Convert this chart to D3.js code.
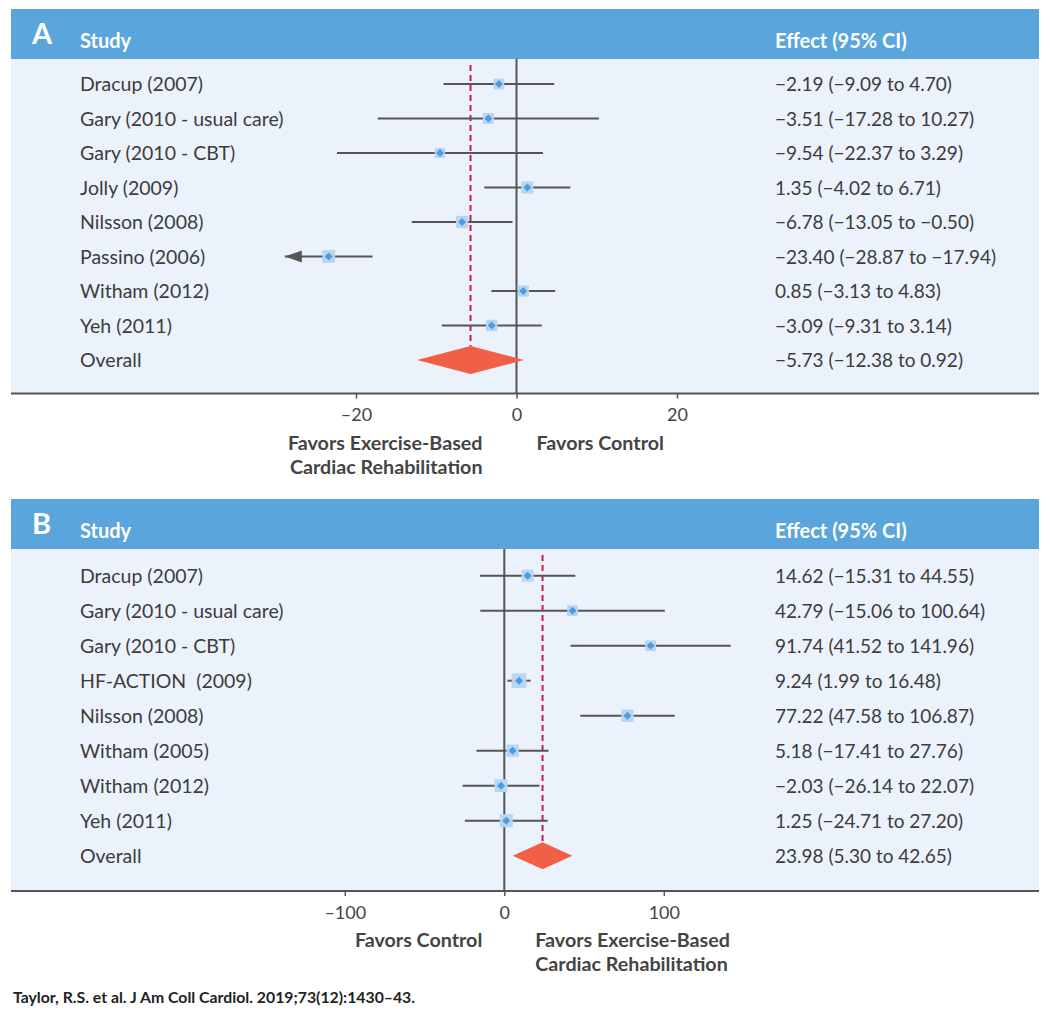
<!DOCTYPE html>
<html>
<head>
<meta charset="utf-8">
<script src="https://cdn.jsdelivr.net/npm/d3@7"></script>
<style>
  body { margin: 0; background: #fff; }
  svg { display: block; font-family: Lato, "Noto Sans", sans-serif; }
</style>
</head>
<body>
<svg id="chart" width="1050" height="1017"></svg>
<script>
// Panel A data
const studiesA = ["Dracup (2007)", "Gary (2010 - usual care)", "Gary (2010 - CBT)", "Jolly (2009)",
  "Nilsson (2008)", "Passino (2006)", "Witham (2012)", "Yeh (2011)"];
const estA = [-2.19, -3.51, -9.54, 1.35, -6.78, -23.40, 0.85, -3.09];
const loA = [-9.09, -17.28, -22.37, -4.02, -13.05, -28.87, -3.13, -9.31];
const hiA = [4.70, 10.27, 3.29, 6.71, -0.50, -17.94, 4.83, 3.14];
const weightA = [10.8, 11.5, 10.1, 13.7, 14.3, 15.3, 12.2, 12.2];
const truncatedA = ["Passino (2006)"];
const overallA = [-5.73, -12.38, 0.92];
const ticksA = [-20, 0, 20];

// Panel B data
const studiesB = ["Dracup (2007)", "Gary (2010 - usual care)", "Gary (2010 - CBT)", "HF-ACTION  (2009)",
  "Nilsson (2008)", "Witham (2005)", "Witham (2012)", "Yeh (2011)"];
const estB = [14.62, 42.79, 91.74, 9.24, 77.22, 5.18, -2.03, 1.25];
const loB = [-15.31, -15.06, 41.52, 1.99, 47.58, -17.41, -26.14, -24.71];
const hiB = [44.55, 100.64, 141.96, 16.48, 106.87, 27.76, 22.07, 27.20];
const weightB = [11.7, 9.3, 9.3, 17.6, 12.3, 12.3, 13.8, 13.8];
const truncatedB = [];
const overallB = [23.98, 5.30, 42.65];
const ticksB = [-100, 0, 100];

const svg = d3.select('#chart');
const fmt = d3.format('.2f');

// Build one forest panel
function drawPanel(cfg) {
    const g = svg.append('g');
    const left = 11, right = 1039;

    // Header band
    g.append('rect')
        .attr('x', left).attr('y', cfg.top)
        .attr('width', right - left).attr('height', 50)
        .attr('fill', '#5aa5dc');
    // Light body
    g.append('rect')
        .attr('x', left).attr('y', cfg.top + 50)
        .attr('width', right - left).attr('height', cfg.axisY - cfg.top - 50)
        .attr('fill', '#ebf2fb');

    g.append('text').attr('x', 32).attr('y', cfg.top + 34.5)
        .attr('fill', '#fff').attr('font-weight', 'bold').attr('font-size', 29)
        .text(cfg.letter);
    g.append('text').attr('x', 80).attr('y', cfg.top + 38.5)
        .attr('fill', '#fff').attr('font-weight', 'bold').attr('font-size', 20)
        .text('Study');
    g.append('text').attr('x', 775).attr('y', cfg.top + 38.5)
        .attr('fill', '#fff').attr('font-weight', 'bold').attr('font-size', 20)
        .text('Effect (95% CI)');

    const x = d3.scaleLinear().domain(cfg.domain).range(cfg.range);
    const rows = cfg.studies.concat(['Overall']);
    const y = d3.scalePoint().domain(rows).range(cfg.rowRange);
    const size = d3.scaleSqrt().domain([0, 100]).range([0, cfg.sizeK]);

    const data = cfg.studies.map((s, i) => ({
        study: s, est: cfg.est[i], lo: cfg.lo[i], hi: cfg.hi[i], w: cfg.weight[i],
        trunc: cfg.truncated.includes(s)
    }));

    // Zero line
    g.append('line')
        .attr('x1', x(0)).attr('x2', x(0))
        .attr('y1', cfg.top + 50).attr('y2', cfg.axisY)
        .attr('stroke', '#555').attr('stroke-width', 2);

    // Dashed overall line
    const [oe, olo, ohi] = cfg.overall;
    const yo = y('Overall');
    g.append('line')
        .attr('x1', x(oe)).attr('x2', x(oe))
        .attr('y1', cfg.top + 56).attr('y2', yo - cfg.diaH)
        .attr('stroke', '#c41f4f').attr('stroke-width', 2)
        .attr('stroke-dasharray', '6,4');

    // CI lines
    g.selectAll('.ci').data(data).enter().append('line')
        .attr('x1', d => x(d.lo)).attr('x2', d => x(d.hi))
        .attr('y1', d => y(d.study)).attr('y2', d => y(d.study))
        .attr('stroke', '#555').attr('stroke-width', 2);

    // Arrow heads for truncated CIs
    g.selectAll('.arrow').data(data.filter(d => d.trunc)).enter().append('path')
        .attr('d', d => {
            const tx = x(d.lo), ty = y(d.study);
            return `M${tx},${ty} L${tx + 17},${ty - 6} L${tx + 17},${ty + 6} Z`;
        })
        .attr('fill', '#555');

    // Weight squares
    g.selectAll('.sq').data(data).enter().append('rect')
        .attr('x', d => x(d.est) - size(d.w) / 2)
        .attr('y', d => y(d.study) - size(d.w) / 2)
        .attr('width', d => size(d.w)).attr('height', d => size(d.w))
        .attr('fill', '#b9d5f1');

    // Point diamonds
    g.selectAll('.pt').data(data).enter().append('path')
        .attr('d', d => {
            const cx = x(d.est), cy = y(d.study), r = 4;
            return `M${cx - r},${cy} L${cx},${cy - r} L${cx + r},${cy} L${cx},${cy + r} Z`;
        })
        .attr('fill', '#4a9de0');

    // Overall diamond
    g.append('path')
        .attr('d', `M${x(olo)},${yo} L${x(oe)},${yo - cfg.diaH} L${x(ohi)},${yo} L${x(oe)},${yo + cfg.diaH} Z`)
        .attr('fill', '#f15f45');

    // Row labels
    g.selectAll('.lab').data(rows).enter().append('text')
        .attr('x', 80).attr('y', d => y(d) + 7)
        .attr('fill', '#3c3c3c').attr('font-size', 19.5)
        .style('white-space', 'pre')
        .text(d => d);

    // Effect text
    const effects = data.map(d => [d.study, d.est, d.lo, d.hi]).concat([['Overall', oe, olo, ohi]]);
    g.selectAll('.eff').data(effects).enter().append('text')
        .attr('x', 775).attr('y', d => y(d[0]) + 7)
        .attr('fill', '#3c3c3c').attr('font-size', 19)
        .text(d => `${fmt(d[1])} (${fmt(d[2])} to ${fmt(d[3])})`);

    // Axis line across the panel
    g.append('line')
        .attr('x1', left).attr('x2', right)
        .attr('y1', cfg.axisY).attr('y2', cfg.axisY)
        .attr('stroke', '#555').attr('stroke-width', 2);

    const axis = g.append('g')
        .attr('transform', `translate(0,${cfg.axisY})`)
        .call(d3.axisBottom(x).tickValues(cfg.ticks).tickSize(5).tickPadding(10)
            .tickFormat(d => String(d).replace('-', '\u2013')));
    axis.select('.domain').remove();
    axis.selectAll('.tick line').attr('stroke', '#555').attr('stroke-width', 1.5);
    axis.selectAll('.tick text').attr('fill', '#444').attr('font-size', 18)
        .attr('font-family', 'Lato, sans-serif');

    // Favors labels
    const lab = g.append('g').attr('fill', '#444').attr('font-weight', 'bold').attr('font-size', 19.7);
    cfg.leftLabel.forEach((t, i) => {
        lab.append('text').attr('x', x(0) - cfg.leftGap).attr('y', cfg.axisY + 56 + i * 24)
            .attr('text-anchor', 'end').text(t);
    });
    cfg.rightLabel.forEach((t, i) => {
        lab.append('text').attr('x', x(0) + cfg.rightGap).attr('y', cfg.axisY + 56 + i * 24)
            .attr('text-anchor', 'start').text(t);
    });
}

drawPanel({
    letter: 'A', top: 9, axisY: 393.5,
    studies: studiesA, est: estA, lo: loA, hi: hiA, weight: weightA, truncated: truncatedA,
    overall: overallA, ticks: ticksA,
    domain: [-20, 20], range: [356, 677],
    rowRange: [84, 360], sizeK: 32.6, diaH: 14,
    leftLabel: ['Favors Exercise-Based', 'Cardiac Rehabilitation'], leftGap: 34,
    rightLabel: ['Favors Control'], rightGap: 20
});

drawPanel({
    letter: 'B', top: 499, axisY: 891,
    studies: studiesB, est: estB, lo: loB, hi: hiB, weight: weightB, truncated: truncatedB,
    overall: overallB, ticks: ticksB,
    domain: [-100, 100], range: [344.8, 663.8],
    rowRange: [575.7, 855.7], sizeK: 35.1, diaH: 13.5,
    leftLabel: ['Favors Control'], leftGap: 22,
    rightLabel: ['Favors Exercise-Based', 'Cardiac Rehabilitation'], rightGap: 31
});

// Source note
svg.append('text')
    .attr('x', 13).attr('y', 1003)
    .attr('fill', '#222').attr('font-weight', 'bold').attr('font-size', 15.8)
    .text('Taylor, R.S. et al. J Am Coll Cardiol. 2019;73(12):1430\u201343.');
</script>
</body>
</html>
